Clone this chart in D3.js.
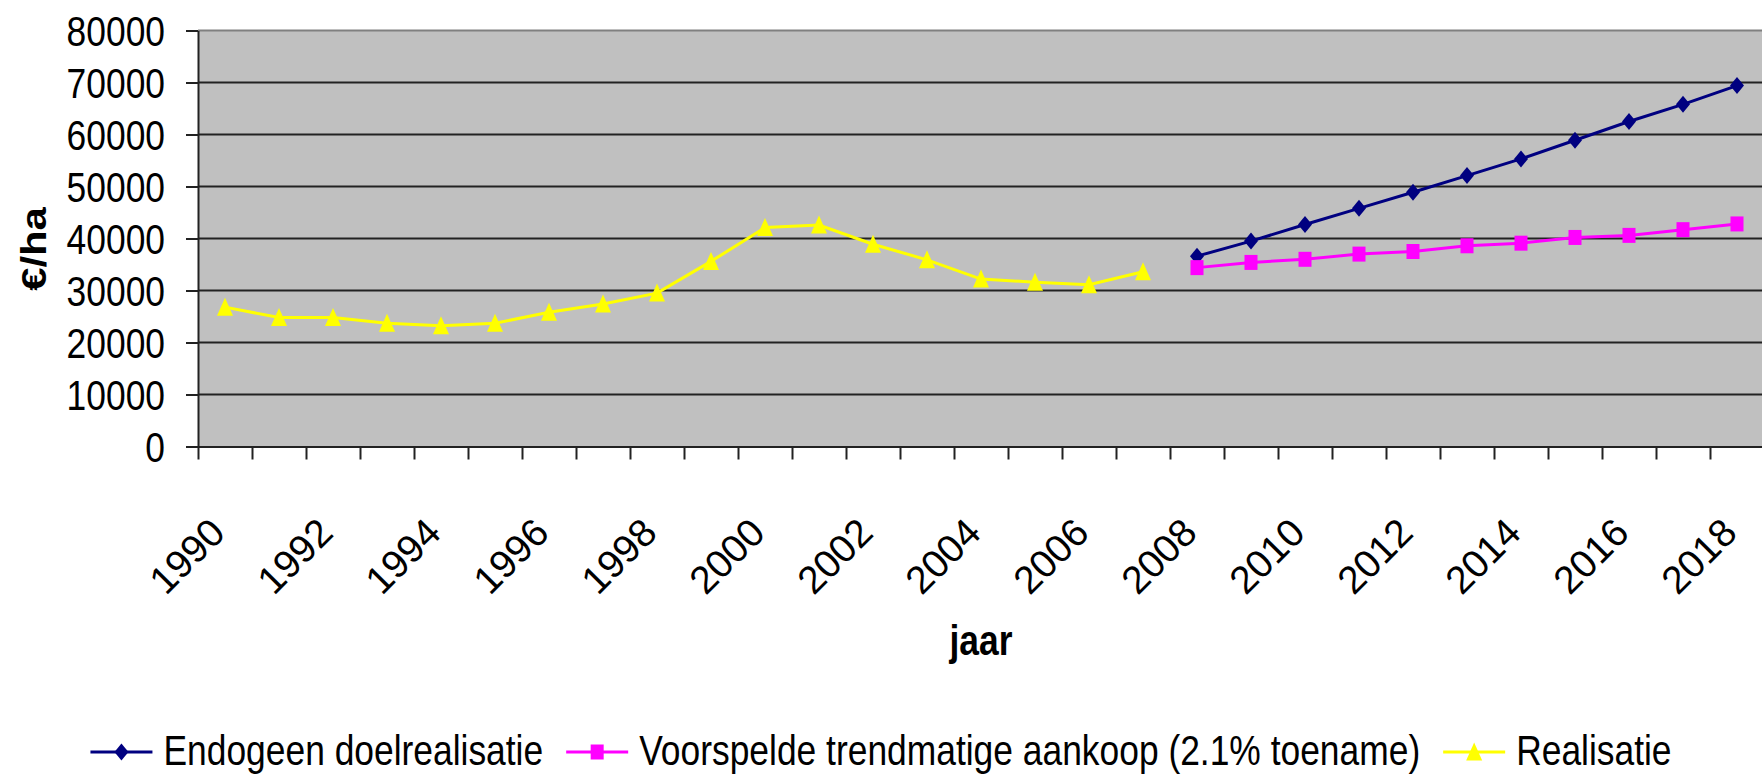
<!DOCTYPE html>
<html>
<head>
<meta charset="utf-8">
<script src="https://cdn.jsdelivr.net/npm/d3@7"></script>
<style>
    body { margin: 0; background: #fff; }
    svg { display: block; }
    text { font-family: "Liberation Sans", Arial, sans-serif; fill: #000; }
</style>
</head>
<body>
<svg id="chart"></svg>
<script>
    // categories (years) and series
    const years = [1990, 1991, 1992, 1993, 1994, 1995, 1996, 1997, 1998, 1999,
        2000, 2001, 2002, 2003, 2004, 2005, 2006, 2007, 2008, 2009,
        2010, 2011, 2012, 2013, 2014, 2015, 2016, 2017, 2018];
    const xLabelYears = [1990, 1992, 1994, 1996, 1998, 2000, 2002, 2004, 2006, 2008, 2010, 2012, 2014, 2016, 2018];
    const yTicks = [0, 10000, 20000, 30000, 40000, 50000, 60000, 70000, 80000];

    const realisatieYears = [1990, 1991, 1992, 1993, 1994, 1995, 1996, 1997, 1998, 1999,
        2000, 2001, 2002, 2003, 2004, 2005, 2006, 2007];
    const realisatie = [26800, 24800, 24800, 23700, 23200, 23700, 25800, 27400, 29500, 35600,
        42100, 42600, 38900, 35900, 32200, 31600, 31100, 33600];

    const prognoseYears = [2008, 2009, 2010, 2011, 2012, 2013, 2014, 2015, 2016, 2017, 2018];
    const endogeen = [36600, 39500, 42700, 45800, 48900, 52100, 55300, 58900, 62500, 65800, 69400];
    const voorspeld = [34400, 35400, 36000, 37000, 37500, 38600, 39100, 40200, 40600, 41700, 42800];

    const seriesNames = ["Endogeen doelrealisatie", "Voorspelde trendmatige aankoop (2.1% toename)", "Realisatie"];

    const width = 1762, height = 774;
    const plot = { left: 198, right: 1764, top: 30.5, bottom: 446.5 };
    const FONT = 35.4, STRETCH = 1.18;

    const svg = d3.select("#chart")
        .attr("width", width)
        .attr("height", height);

    const x = d3.scaleBand().domain(years).range([plot.left, plot.right]).padding(0);
    const xEdge = d3.scaleLinear().domain([1990, 2019]).range([plot.left, plot.right]);
    const y = d3.scaleLinear().domain([0, 80000]).range([plot.bottom, plot.top]);
    const cx = d => x(d) + x.bandwidth() / 2;

    // plot background
    svg.append("rect")
        .attr("x", plot.left)
        .attr("y", y(80000))
        .attr("width", plot.right - plot.left)
        .attr("height", y(0) - y(80000))
        .attr("fill", "#c0c0c0");

    // gridlines
    svg.append("g")
        .selectAll("line")
        .data(yTicks.filter(d => d > 0 && d < 80000))
        .join("line")
        .attr("x1", plot.left).attr("x2", plot.right)
        .attr("y1", d => y(d)).attr("y2", d => y(d))
        .attr("stroke", "#222").attr("stroke-width", 2);

    svg.append("line")
        .attr("x1", plot.left).attr("x2", plot.right)
        .attr("y1", y(80000)).attr("y2", y(80000))
        .attr("stroke", "#808080").attr("stroke-width", 2);

    // y axis
    svg.append("g")
        .attr("transform", `translate(${plot.left},0)`)
        .call(d3.axisLeft(y).tickValues(yTicks).tickFormat(d3.format("d")).tickSize(12).tickSizeOuter(0))
        .attr("font-size", FONT)
        .attr("font-family", null)
        .call(g => g.select(".domain").attr("stroke", "#222").attr("stroke-width", 2))
        .call(g => g.selectAll(".tick line").attr("stroke", "#222").attr("stroke-width", 2))
        .call(g => g.selectAll("text")
            .attr("x", null)
            .attr("dy", "0.358em")
            .attr("transform", `translate(-33,0) scale(1,${STRETCH})`));

    // x axis (tick marks between categories)
    svg.append("g")
        .attr("transform", `translate(0,${y(0)})`)
        .call(d3.axisBottom(xEdge).tickValues(years).tickSize(13).tickSizeOuter(0).tickFormat(""))
        .call(g => g.select(".domain").attr("stroke", "#222").attr("stroke-width", 2))
        .call(g => g.selectAll(".tick line").attr("stroke", "#222").attr("stroke-width", 2));

    svg.append("g")
        .selectAll("text")
        .data(xLabelYears)
        .join("text")
        .attr("transform", d => `translate(${cx(d) + 2},535) rotate(-45)`)
        .attr("text-anchor", "end")
        .attr("font-size", 39)
        .text(d => d);

    // axis titles
    svg.append("text")
        .attr("transform", `translate(${(plot.left + plot.right) / 2},655) scale(1,${STRETCH})`)
        .attr("text-anchor", "middle")
        .attr("font-size", FONT)
        .attr("font-weight", "bold")
        .text("jaar");

    svg.append("text")
        .attr("transform", `translate(46,249) scale(1,${STRETCH}) rotate(-90)`)
        .attr("text-anchor", "middle")
        .attr("font-size", FONT)
        .attr("font-weight", "bold")
        .text("€/ha");

    // markers
    const markers = {
        diamond: "M0,-8.5L7,0L0,8.5L-7,0Z",
        square: "M-6.5,-7.5H6.5V7.5H-6.5Z",
        triangle: "M0,-9.5L8,8.5L-8,8.5Z"
    };

    const series = [
        { name: seriesNames[0], color: "#000080", marker: "diamond", data: prognoseYears.map((yr, i) => ({ year: yr, value: endogeen[i] })) },
        { name: seriesNames[1], color: "#ff00ff", marker: "square", data: prognoseYears.map((yr, i) => ({ year: yr, value: voorspeld[i] })) },
        { name: seriesNames[2], color: "#ffff00", marker: "triangle", data: realisatieYears.map((yr, i) => ({ year: yr, value: realisatie[i] })) }
    ];

    const line = d3.line()
        .x(d => cx(d.year))
        .y(d => y(d.value));

    series.forEach(s => {
        svg.append("path")
            .datum(s.data)
            .attr("d", line)
            .attr("fill", "none")
            .attr("stroke", s.color)
            .attr("stroke-width", 3);

        svg.append("g")
            .selectAll("path")
            .data(s.data)
            .join("path")
            .attr("d", markers[s.marker])
            .attr("transform", d => `translate(${cx(d.year)},${y(d.value)})`)
            .attr("fill", s.color);
    });

    // legend
    const legend = svg.append("g");
    const lineLen = 62, textGap = 11, itemGap = 23;
    let pos = 0;
    series.forEach(s => {
        const item = legend.append("g").attr("transform", `translate(${pos},0)`);
        item.append("line")
            .attr("x1", 0).attr("x2", lineLen)
            .attr("y1", 752).attr("y2", 752)
            .attr("stroke", s.color).attr("stroke-width", 3);
        item.append("path")
            .attr("d", markers[s.marker])
            .attr("transform", `translate(${lineLen / 2},752)`)
            .attr("fill", s.color);
        const t = item.append("text")
            .attr("transform", `translate(${lineLen + textGap},765) scale(1,${STRETCH})`)
            .attr("font-size", FONT)
            .text(s.name);
        pos += lineLen + textGap + t.node().getComputedTextLength() + itemGap;
    });
    pos -= itemGap;
    legend.attr("transform", `translate(${(width - pos) / 2},0)`);
</script>
</body>
</html>
